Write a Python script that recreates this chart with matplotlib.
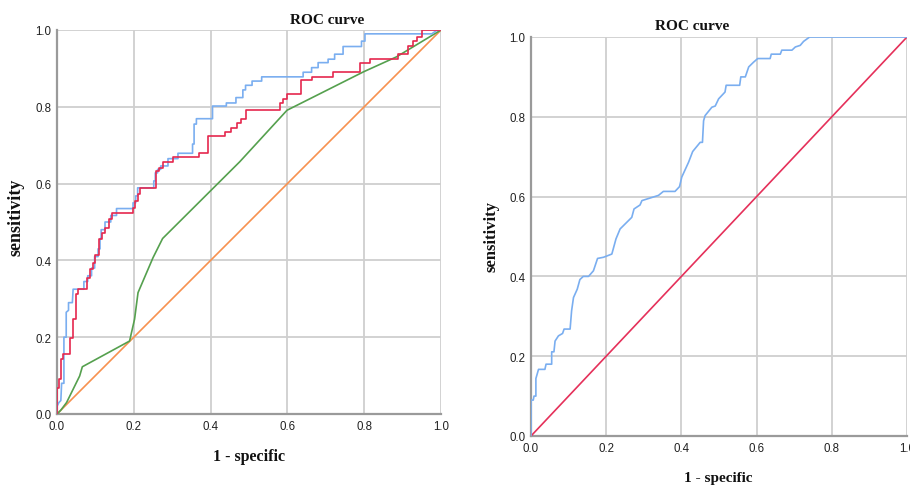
"""Script used to plot two ROC curves side by side."""

import matplotlib

matplotlib.use("Agg")
import matplotlib.pyplot as plt

# left chart, three models + reference line
left_blue_fpr = [0, 0, 0.005, 0.01, 0.012, 0.018, 0.018, 0.024, 0.024, 0.03, 0.03, 0.04, 0.042, 0.07,
                 0.07, 0.08, 0.08, 0.09, 0.09, 0.098, 0.098, 0.107, 0.107, 0.112, 0.112, 0.115, 0.115,
                 0.125, 0.125, 0.14, 0.14, 0.155, 0.155, 0.198, 0.198, 0.205, 0.205, 0.21, 0.21, 0.252,
                 0.252, 0.256, 0.256, 0.262, 0.262, 0.27, 0.27, 0.289, 0.289, 0.315, 0.315, 0.353, 0.353,
                 0.357, 0.357, 0.363, 0.363, 0.405, 0.405, 0.441, 0.441, 0.466, 0.466, 0.484, 0.484,
                 0.491, 0.491, 0.508, 0.508, 0.533, 0.533, 0.641, 0.641, 0.663, 0.663, 0.68, 0.68, 0.706,
                 0.706, 0.723, 0.723, 0.745, 0.745, 0.793, 0.793, 0.802, 0.802, 0.976, 0.99, 1]
left_blue_tpr = [0, 0.02, 0.03, 0.035, 0.08, 0.08, 0.2, 0.2, 0.265, 0.27, 0.29, 0.29, 0.325, 0.325,
                 0.345, 0.345, 0.36, 0.36, 0.38, 0.38, 0.41, 0.41, 0.43, 0.43, 0.455, 0.46, 0.48,
                 0.48, 0.5, 0.5, 0.517, 0.517, 0.535, 0.535, 0.55, 0.55, 0.568, 0.568, 0.589, 0.589,
                 0.607, 0.607, 0.628, 0.628, 0.637, 0.637, 0.646, 0.646, 0.665, 0.665, 0.679, 0.679, 0.703,
                 0.703, 0.755, 0.755, 0.769, 0.769, 0.802, 0.802, 0.81, 0.81, 0.824, 0.824, 0.844,
                 0.844, 0.856, 0.856, 0.867, 0.867, 0.878, 0.878, 0.89, 0.89, 0.902, 0.902, 0.915, 0.915,
                 0.924, 0.924, 0.937, 0.937, 0.957, 0.957, 0.971, 0.971, 0.99, 0.99, 1.0, 1]

left_red_fpr = [0, 0, 0.005, 0.005, 0.011, 0.011, 0.016, 0.016, 0.035, 0.035, 0.042, 0.042, 0.049,
                0.049, 0.055, 0.055, 0.078, 0.078, 0.085, 0.085, 0.094, 0.094, 0.098, 0.098, 0.109,
                0.109, 0.117, 0.117, 0.126, 0.126, 0.135, 0.135, 0.143, 0.143, 0.198, 0.198, 0.203,
                0.203, 0.212, 0.212, 0.216, 0.216, 0.259, 0.259, 0.266, 0.266, 0.276, 0.276, 0.302,
                0.302, 0.37, 0.37, 0.394, 0.394, 0.437, 0.437, 0.454, 0.454, 0.469, 0.469, 0.478, 0.478,
                0.492, 0.492, 0.58, 0.58, 0.589, 0.589, 0.598, 0.598, 0.635, 0.635, 0.663, 0.663, 0.719,
                0.719, 0.789, 0.789, 0.815, 0.815, 0.889, 0.889, 0.915, 0.915, 0.928, 0.928, 0.937,
                0.937, 0.95, 0.95, 1]
left_red_tpr = [0, 0.069, 0.069, 0.09, 0.09, 0.142, 0.142, 0.155, 0.155, 0.199, 0.199, 0.247, 0.247,
                0.312, 0.312, 0.325, 0.325, 0.355, 0.355, 0.377, 0.377, 0.394, 0.394, 0.413, 0.413,
                0.455, 0.455, 0.472, 0.472, 0.485, 0.485, 0.507, 0.507, 0.524, 0.524, 0.537, 0.537,
                0.555, 0.555, 0.572, 0.572, 0.589, 0.589, 0.633, 0.633, 0.641, 0.641, 0.655, 0.655,
                0.669, 0.669, 0.679, 0.679, 0.724, 0.724, 0.734, 0.734, 0.746, 0.746, 0.759, 0.759, 0.769,
                0.769, 0.791, 0.791, 0.81, 0.81, 0.821, 0.821, 0.834, 0.834, 0.869, 0.869, 0.878, 0.878,
                0.89, 0.89, 0.915, 0.915, 0.925, 0.925, 0.937, 0.937, 0.958, 0.958, 0.971, 0.971,
                0.983, 0.983, 1.0, 1]

left_green_fpr = [0, 0.01, 0.025, 0.059, 0.066, 0.189, 0.202, 0.211, 0.25, 0.275, 0.476, 0.599,
                  0.798, 0.884, 1]
left_green_tpr = [0, 0.01, 0.03, 0.099, 0.123, 0.19, 0.247, 0.316, 0.407, 0.457, 0.657, 0.791,
                  0.891, 0.93, 1]

# right chart, one model + reference line
right_blue_fpr = [0, 0, 0.006, 0.008, 0.013, 0.013, 0.02, 0.037, 0.04, 0.055, 0.055, 0.061, 0.064,
                  0.073, 0.084, 0.088, 0.104, 0.108, 0.113, 0.123, 0.13, 0.139, 0.153, 0.166, 0.177,
                  0.193, 0.215, 0.226, 0.237, 0.268, 0.274, 0.29, 0.295, 0.339, 0.352, 0.383, 0.395,
                  0.401, 0.419, 0.43, 0.45, 0.456, 0.459, 0.463, 0.481, 0.49, 0.499, 0.516, 0.519,
                  0.555, 0.558, 0.57, 0.579, 0.592, 0.603, 0.636, 0.639, 0.663, 0.667, 0.694, 0.703,
                  0.716, 0.725, 0.741, 1]
right_blue_tpr = [0, 0.09, 0.09, 0.1, 0.1, 0.144, 0.167, 0.167, 0.18, 0.18, 0.211, 0.211, 0.238,
                  0.251, 0.257, 0.268, 0.268, 0.314, 0.347, 0.368, 0.392, 0.4, 0.4, 0.414, 0.445,
                  0.448, 0.456, 0.494, 0.519, 0.548, 0.569, 0.579, 0.59, 0.603, 0.613, 0.613, 0.625,
                  0.649, 0.686, 0.713, 0.736, 0.736, 0.79, 0.803, 0.824, 0.827, 0.845, 0.862, 0.879,
                  0.879, 0.9, 0.9, 0.925, 0.937, 0.946, 0.946, 0.957, 0.957, 0.967, 0.967, 0.975,
                  0.979, 0.989, 1.0, 1]

diag = [0, 1]
ticks = [0.0, 0.2, 0.4, 0.6, 0.8, 1.0]
tick_labels = ["0.0", "0.2", "0.4", "0.6", "0.8", "1.0"]

W, H = 910, 489


def style_axes(ax):
    """
    Apply the SPSS-like look to an axis.
    Parameters
    ----------
    ax : The matplotlib axis.

    Returns
    -------
    None.
    """
    ax.set_xlim(0, 1)
    ax.set_ylim(0, 1)
    ax.set_xticks(ticks)
    ax.set_yticks(ticks)
    ax.set_xticklabels(tick_labels)
    ax.set_yticklabels(tick_labels)
    ax.tick_params(length=0, pad=4, labelsize=8.3, labelcolor="#222222")
    for lab in ax.get_xticklabels() + ax.get_yticklabels():
        lab.set_family("Liberation Sans")
    ax.grid(True, color="#cfcfcf", linewidth=1.3)
    ax.set_axisbelow(True)
    for side in ["top", "right"]:
        ax.spines[side].set_visible(False)
    for side in ["left", "bottom"]:
        ax.spines[side].set_color("#9a9a9a")
        ax.spines[side].set_linewidth(1.6)


def add_text(fig, px, py, txt, size, rotation=0):
    """Place bold serif text using pixel coordinates of the reference."""
    fig.text(px / W, 1 - py / H, txt, ha="center", va="center", rotation=rotation,
             fontsize=size, fontweight="bold", family="Liberation Serif", color="#111111")


def roc_plot():
    """
    Draw both ROC panels and save them.
    Returns
    -------
    None.
    """
    fig = plt.figure(figsize=(W / 100, H / 100), dpi=100)

    ax1 = fig.add_axes([57 / W, 1 - 415 / H, 384 / W, 384 / H])
    style_axes(ax1)
    ax1.plot(diag, diag, color="#f7914f", lw=1.2, zorder=3)
    ax1.plot(left_green_fpr, left_green_tpr, color="#55a04e", lw=1.2, zorder=4)
    ax1.plot(left_blue_fpr, left_blue_tpr, color="#7aaef0", lw=1.2, zorder=5)
    ax1.plot(left_red_fpr, left_red_tpr, color="#e5284e", lw=1.2, zorder=6)

    ax2 = fig.add_axes([531 / W, 1 - 437 / H, 376 / W, 399 / H])
    style_axes(ax2)
    ax2.plot(diag, diag, color="#e5305a", lw=1.2, zorder=3)
    ax2.plot(right_blue_fpr, right_blue_tpr, color="#7aaef0", lw=1.2, zorder=4)

    add_text(fig, 327, 20, "ROC curve", 11)
    add_text(fig, 249, 457, "1 - specific", 11.5)
    add_text(fig, 16, 217, "sensitivity", 13, rotation=90)

    add_text(fig, 692, 27, "ROC curve", 11)
    add_text(fig, 718, 479, "1 - specific", 11)
    add_text(fig, 492, 237, "sensitivity", 12, rotation=90)

    fig.savefig("out.png", dpi=100)


if __name__ == "__main__":
    roc_plot()
